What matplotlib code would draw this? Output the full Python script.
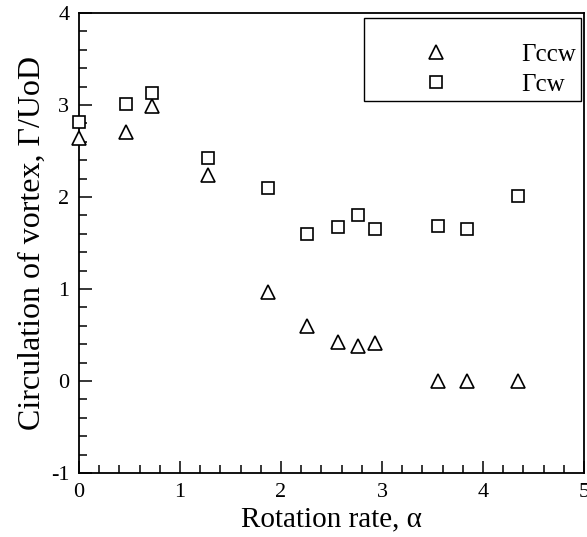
import matplotlib
matplotlib.use('Agg')
import matplotlib.pyplot as plt
from matplotlib.ticker import MultipleLocator

plt.rcParams['font.family'] = ['Liberation Serif', 'DejaVu Serif']
plt.rcParams['axes.unicode_minus'] = False

# rotation rate alpha
alpha = [0.0, 0.465, 0.72, 1.28, 1.87, 2.26, 2.56, 2.76, 2.93, 3.55, 3.84, 4.35]
# circulation of the two vortices
gamma_ccw = [2.64, 2.71, 2.99, 2.24, 0.97, 0.60, 0.42, 0.38, 0.41, 0.0, 0.0, 0.0]
gamma_cw = [2.82, 3.01, 3.13, 2.42, 2.10, 1.60, 1.67, 1.80, 1.65, 1.69, 1.65, 2.01]

fig = plt.figure(figsize=(5.87, 5.37), dpi=100)
ax = fig.add_axes([0.1346, 0.1192, 0.8603, 0.8566])

ax.plot(alpha, gamma_ccw, ls='none', marker='^', ms=10.5, mfc='white', mec='black',
        mew=1.2, clip_on=False, zorder=3, label='Γccw')
ax.plot(alpha, gamma_cw, ls='none', marker='s', ms=9, mfc='white', mec='black',
        mew=1.2, clip_on=False, zorder=3, label='Γcw')

ax.set_xlim(0, 5)
ax.set_ylim(-1, 4)
ax.xaxis.set_major_locator(MultipleLocator(1))
ax.xaxis.set_minor_locator(MultipleLocator(0.2))
ax.yaxis.set_major_locator(MultipleLocator(1))
ax.yaxis.set_minor_locator(MultipleLocator(0.2))
ax.tick_params(which='both', direction='in', top=False, right=False, width=1.1,
               labelsize=16)
ax.tick_params(which='major', length=9, pad=7)
ax.tick_params(which='minor', length=5.5)
for s in ax.spines.values():
    s.set_linewidth(1.3)

ax.set_xlabel('Rotation rate, α', fontsize=21, labelpad=3)
ax.set_ylabel('Circulation of vortex, Γ/UoD', fontsize=23, labelpad=3)

leg = ax.legend(loc='upper right', bbox_to_anchor=(0.994, 0.989), fontsize=18,
                frameon=True, fancybox=False, framealpha=1, edgecolor='black',
                handlelength=5.4, handletextpad=0.7, borderpad=0.2,
                labelspacing=0.3, title=' ', title_fontsize=11,
                borderaxespad=0)
leg.get_frame().set_linewidth(1.0)

fig.savefig('out.png', dpi=100)
